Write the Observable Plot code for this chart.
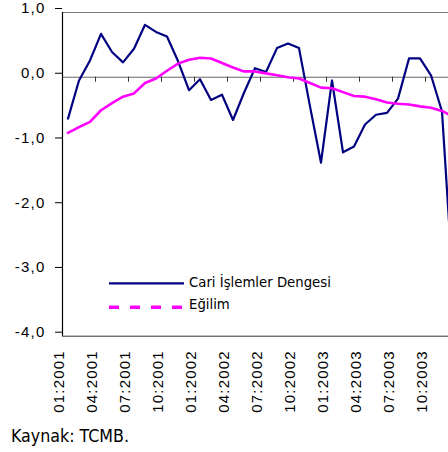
<!DOCTYPE html>
<html><head><meta charset="utf-8">
<script src="https://cdn.jsdelivr.net/npm/d3@7"></script>
<script src="https://cdn.jsdelivr.net/npm/@observablehq/plot@0.6"></script>
<style>
html,body{margin:0;padding:0;background:#fff;}
#wrap{position:relative;width:448px;height:452px;overflow:hidden;background:#fff;}
#chart svg{display:block;}
#overlay{position:absolute;left:0;top:0;}
#overlay text{font-family:"DejaVu Sans Condensed","DejaVu Sans",sans-serif;font-stretch:condensed;fill:#000;}
</style></head><body>
<div id="wrap"><div id="chart"></div>
<svg id="overlay" width="448" height="452"></svg>
</div>
<script>
const months = [
 "01:2001","02:2001","03:2001","04:2001","05:2001","06:2001","07:2001","08:2001","09:2001","10:2001","11:2001","12:2001",
 "01:2002","02:2002","03:2002","04:2002","05:2002","06:2002","07:2002","08:2002","09:2002","10:2002","11:2002","12:2002",
 "01:2003","02:2003","03:2003","04:2003","05:2003","06:2003","07:2003","08:2003","09:2003","10:2003","11:2003","12:2003"
];
const cari = [
 -0.64, -0.05, 0.26, 0.67, 0.39, 0.23, 0.44, 0.81, 0.70, 0.63, 0.25, -0.20,
 -0.03, -0.35, -0.27, -0.66, -0.24, 0.14, 0.08, 0.45, 0.52, 0.45, -0.45, -1.32,
 -0.05, -1.16, -1.07, -0.73, -0.58, -0.55, -0.33, 0.29, 0.29, 0.03, -0.53, -3.2
];
const egilim = [
 -0.86, -0.77, -0.69, -0.51, -0.40, -0.30, -0.25, -0.09, -0.02, 0.10, 0.21, 0.27,
 0.30, 0.29, 0.22, 0.15, 0.09, 0.09, 0.06, 0.03, 0.00, -0.02, -0.09, -0.16,
 -0.17, -0.23, -0.29, -0.30, -0.34, -0.39, -0.41, -0.42, -0.45, -0.47, -0.52, -0.61
];
const yTicks = [1, 0, -1, -2, -3, -4];
const xTickLabels = ["01:2001","04:2001","07:2001","10:2001","01:2002","04:2002","07:2002","10:2002","01:2003","04:2003","07:2003","10:2003"];
const seriesNames = ["Cari İşlemler Dengesi", "Eğilim"];
const seriesColors = ["#000080", "#FF00FF"];
const caption = "Kaynak: TCMB.";

const data = months.map((m, i) => ({i, m, cari: cari[i], egilim: egilim[i]}));
const xTickPos = xTickLabels.map(l => months.indexOf(l) - 0.5);
const labelOf = new Map(xTickPos.map((p, k) => [p, xTickLabels[k]]));
const fmt = d => d.toFixed(1).replace(".", ",");

const chart = Plot.plot({
  width: 448, height: 420,
  marginLeft: 62, marginRight: 0, marginTop: 12, marginBottom: 84.3,
  x: {type: "linear", domain: [-0.5, months.length - 0.5], range: [62, 62 + 11 * months.length], axis: null},
  y: {domain: [-4, 1], range: [335.7, 12], axis: null},
  style: {fontFamily: "'Liberation Sans', Arial, sans-serif", fontSize: "15px", color: "#000", background: "#fff", letterSpacing: "1.2px"},
  marks: [
    Plot.ruleY([1], {stroke: "#7a7a7a", strokeWidth: 1}),
    Plot.ruleY([-4], {stroke: "#333", strokeWidth: 1}),
    Plot.ruleY([0], {stroke: "#666", strokeWidth: 1}),
    Plot.ruleX(xTickPos, {y1: 0, y2: 0, insetBottom: -5, stroke: "#333"}),
    Plot.ruleX([-0.5], {y1: -4, y2: 1, stroke: "#000", strokeWidth: 1.2}),
    Plot.axisY({ticks: yTicks, tickFormat: fmt, tickSize: 7, tickPadding: 10, dy: -4, anchor: "left", label: null}),
    Plot.axisX({ticks: xTickPos, tickFormat: d => labelOf.get(d), tickRotate: -90, tickSize: 0, tickPadding: 14, anchor: "bottom", dx: -3, label: null}),
    Plot.line(data, {x: "i", y: "cari", stroke: seriesColors[0], strokeWidth: 2.2}),
    Plot.line(data, {x: "i", y: "egilim", stroke: seriesColors[1], strokeWidth: 2.6})
  ]
});
document.getElementById("chart").append(chart);

// legend + caption overlay
const ov = d3.select("#overlay");
function fitText(sel, target) {
  const n = sel.node();
  const w = n.getComputedTextLength();
  const fs = parseFloat(sel.attr("font-size"));
  if (w > 0) sel.attr("font-size", (fs * target / w).toFixed(2));
}
ov.append("line").attr("x1", 109).attr("x2", 184).attr("y1", 283.3).attr("y2", 283.3)
  .attr("stroke", seriesColors[0]).attr("stroke-width", 2.2);
ov.append("line").attr("x1", 109).attr("x2", 184).attr("y1", 307.3).attr("y2", 307.3)
  .attr("stroke", seriesColors[1]).attr("stroke-width", 3.5).attr("stroke-dasharray", "10,11");
const t1 = ov.append("text").attr("x", 189).attr("y", 287).attr("font-size", 15).text(seriesNames[0]);
fitText(t1, 142);
ov.append("text").attr("x", 189).attr("y", 308.5).attr("font-size", t1.attr("font-size")).text(seriesNames[1]);
const tc = ov.append("text").attr("x", 11).attr("y", 441.7).attr("font-size", 17).text(caption);
fitText(tc, 118);
</script>
</body></html>
